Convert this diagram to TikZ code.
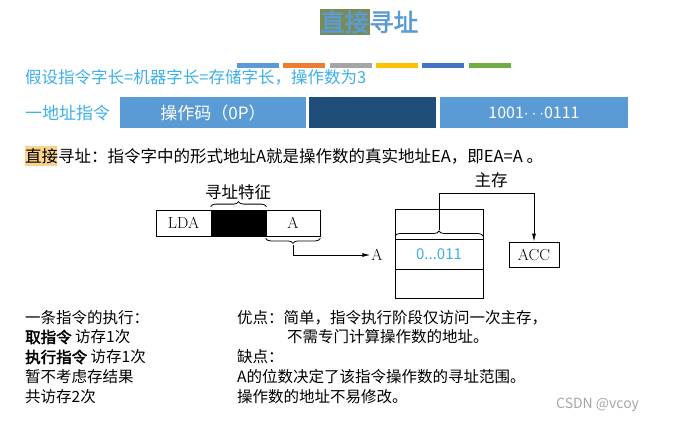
\documentclass[tikz,border=0pt]{standalone}
\usepackage{fontspec}
\setmainfont{Noto Sans CJK SC}[AutoFakeBold=2.5]
\usetikzlibrary{decorations.pathreplacing,arrows.meta,calc}
\definecolor{ttl}{HTML}{5B9BD5}
\definecolor{sky}{HTML}{3BB0EA}
\definecolor{barA}{HTML}{5B9BD5}
\definecolor{barD}{HTML}{1F4E79}
\definecolor{olive}{HTML}{7A8C55}
\definecolor{hl}{HTML}{FBD38D}
\definecolor{cA}{HTML}{5B9BD5}
\definecolor{cB}{HTML}{ED7D31}
\definecolor{cC}{HTML}{A5A5A5}
\definecolor{cD}{HTML}{FFC000}
\definecolor{cE}{HTML}{4472C4}
\definecolor{cF}{HTML}{70AD47}
\tikzset{
  txt/.style={anchor=west,inner sep=0pt,font=\fontsize{15.5}{17}\selectfont},
  fld/.style={draw,thick,minimum height=26pt,inner sep=0pt,font=\fontsize{13}{15}\selectfont},
  brc/.style={decorate,decoration={brace,amplitude=5pt},thick},
  con/.style={thick,-{Latex[length=8pt,width=4pt]}}
}
\begin{document}
\begin{tikzpicture}[x=1pt,y=-1pt]
\useasboundingbox (0,0) rectangle (681,423);
% title
\fill[olive] (320,9) rectangle (370,35);
\node[anchor=west,inner sep=0pt,text=ttl,font=\fontsize{24.5}{26}\selectfont\bfseries] (title) at (320,22) {直接寻址};
\fill[cA] (237,63) rectangle (279,68);
\fill[cB] (283,63) rectangle (325,68);
\fill[cC] (330,63) rectangle (372,68);
\fill[cD] (376,63) rectangle (418,68);
\fill[cE] (422,63) rectangle (464,68);
\fill[cF] (469,63) rectangle (511,68);
\node[txt,text=sky,font=\fontsize{16.5}{18}\selectfont] (assume) at (25,77) {假设指令字长=机器字长=存储字长，操作数为3};
\node[txt,text=sky,font=\fontsize{17}{18}\selectfont] (one) at (25,113) {一地址指令};
\fill[barA] (120,97) rectangle (306,128);
\fill[barD] (309,97) rectangle (436,128);
\fill[barA] (440,97) rectangle (628,128);
\node[text=white,font=\fontsize{17}{19}\selectfont] (op) at (213,113) {操作码（0P）};
\node[text=white,font=\fontsize{16}{18}\selectfont] (val) at (534,113) {1001$\cdots$0111};
\fill[hl] (25,146) rectangle (57,166);
\node[txt,font=\fontsize{16.5}{18}\selectfont] (def) at (25,156) {直接寻址：指令字中的形式地址A就是操作数的真实地址EA，即EA=A 。};
% diagram
\node[fld,minimum width=55pt,font=\fontfamily{lmr}\fontsize{16}{18}\selectfont] (lda) at (183.5,223) {LDA};
\node[fld,minimum width=55pt,fill=black] (blk) at (238.5,223) {};
\node[fld,minimum width=54pt,font=\fontfamily{lmr}\fontsize{16}{18}\selectfont] (a) at (293,223) {A};
\draw[brc] ($(blk.north west)+(0,-3)$) -- ($(blk.north east)+(0,-3)$);
\node[font=\fontsize{16.5}{18}\selectfont] (feat) at (238,192) {寻址特征};
\draw[brc] ($(a.south east)+(0,2)$) -- ($(a.south west)+(0,2)$);
\coordinate (bs) at (293,245);
\node[inner sep=1pt,font=\fontfamily{lmr}\fontsize{16}{18}\selectfont] (ta) at (377,255) {A};
\draw[con] (bs) |- (ta.west);
\node[draw,thick,minimum width=88pt,minimum height=89pt,inner sep=0pt] (mem) at (439,253.5) {};
\draw[thick] (395,239) -- (483,239);
\draw[thick] (395,269) -- (483,269);
\node[text=sky,font=\fontsize{15}{17}\selectfont] (cell) at (439,254) {0...011};
\draw[brc] (395,236) -- (483,236);
\node[font=\fontsize{16.5}{18}\selectfont] (zc) at (491,180) {主存};
\node[fld,minimum width=50pt,minimum height=25pt,font=\fontfamily{lmr}\fontsize{16}{18}\selectfont] (acc) at (534,254.5) {ACC};
\coordinate (mt) at (439,230);
\draw[con] (mt) -- (439,193) -| (acc.north);
% bottom text
\node[txt] (l1) at (25,318) {一条指令的执行：};
\node[txt] (l2) at (25,337) {\textbf{取指令} 访存1次};
\node[txt] (l3) at (25,357) {\textbf{执行指令} 访存1次};
\node[txt] (l4) at (25,377) {暂不考虑存结果};
\node[txt] (l5) at (25,397) {共访存2次};
\node[txt] (r1) at (237,318) {优点：简单，指令执行阶段仅访问一次主存，};
\node[txt] (r2) at (287,337) {不需专门计算操作数的地址。};
\node[txt] (r3) at (237,357) {缺点：};
\node[txt] (r4) at (237,377) {A的位数决定了该指令操作数的寻址范围。};
\node[txt] (r5) at (237,397) {操作数的地址不易修改。};
\node[txt,text=gray!70,font=\fontsize{14}{16}\selectfont] (wm) at (556,405) {CSDN @vcoy};
\end{tikzpicture}
\end{document}
